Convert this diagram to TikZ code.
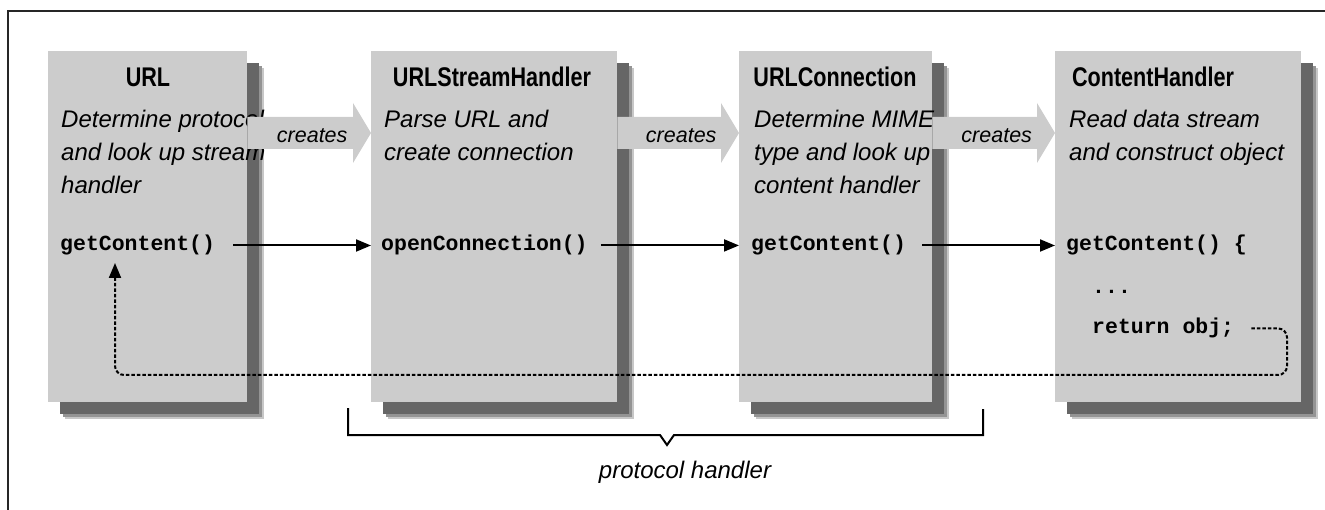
\documentclass[tikz,border=0pt]{standalone}
\usepackage{fontspec}
\setmainfont{Liberation Sans}
\newfontfamily\titlefont[FakeStretch=0.8]{Liberation Sans}
\newfontfamily\codefont{Liberation Mono}
\usetikzlibrary{arrows.meta,shadows,calc}
\definecolor{boxgray}{HTML}{CCCCCC}
\definecolor{shadegray}{HTML}{666666}

\begin{document}
\begin{tikzpicture}[x=1pt,y=-1pt,>={Triangle[length=15pt,width=12pt]},
  box/.style={fill=boxgray,minimum height=351pt,inner sep=0pt,anchor=north west,
    drop shadow={shadow xshift=17pt,shadow yshift=-17pt,fill=black!22,opacity=1},
    drop shadow={shadow xshift=15pt,shadow yshift=-15pt,fill=black!42,opacity=1},
    drop shadow={shadow xshift=12pt,shadow yshift=-12pt,fill=shadegray,opacity=1}},
  title/.style={anchor=base,inner sep=0pt,font=\titlefont\bfseries\fontsize{27}{30}\selectfont},
  desc/.style={anchor=north west,align=left,inner sep=0pt,font=\itshape\fontsize{24}{33}\selectfont},
  code/.style={anchor=base west,inner sep=0pt,font=\codefont\bfseries\fontsize{21.5}{26}\selectfont},
  creates/.style={anchor=base,inner sep=0pt,font=\itshape\fontsize{21.5}{24}\selectfont},
  call/.style={->,line width=2pt},
  back/.style={->,line width=2pt,dash pattern=on 3.5pt off 2pt,rounded corners=9pt}]
  \useasboundingbox (0,0) rectangle (1325,510);
  \draw[line width=2.6pt,black!85] (8,510) |- (1325,11);

  % the four classes
  \node[box,minimum width=199pt] (url) at (48,51) {};
  \node[box,minimum width=246pt] (ush) at (371,51) {};
  \node[box,minimum width=193pt] (con) at (739,51) {};
  \node[box,minimum width=246pt] (ch) at (1055,51) {};

  \node[title] (t1) at (148,87) {URL};
  \node[title] (t2) at (492,87) {URLStreamHandler};
  \node[title] (t3) at (835,87) {URLConnection};
  \node[title] (t4) at (1153,87) {ContentHandler};

  \node[desc] (d1) at (61,110) {Determine protocol\\and look up stream\\handler};
  \node[desc] (d2) at (384,110) {Parse URL and\\create connection};
  \node[desc] (d3) at (754,110) {Determine MIME\\type and look up\\content handler};
  \node[desc] (d4) at (1069,110) {Read data stream\\and construct object};

  \node[code] (gc1) at (60,251) {getContent()};
  \node[code] (oc2) at (381,251) {openConnection()};
  \node[code] (gc3) at (751,251) {getContent()};
  \node[code] (gc4) at (1066,251) {getContent() \{};
  \node[code] (dots) at (1092,294) {...};
  \node[code] (ret) at (1092,334) {return obj;};

  % creates arrows
  \foreach \a/\b/\n in {url/ush/cr1,ush/con/cr2,con/ch/cr3}{
    \fill[boxgray] ($(\a.north east)+(0,66)$) -- ($(\b.north west)+(-18,66)$)
      -- ($(\b.north west)+(-18,52)$) -- ($(\b.north west)+(0,82)$)
      -- ($(\b.north west)+(-18,112)$) -- ($(\b.north west)+(-18,98)$)
      -- ($(\a.north east)+(0,98)$) -- cycle;
    \node[creates] (\n) at ($(\a.north east)!0.5!(\b.north west)+(3,92)$) {creates};
  }

  % calls
  \draw[call] ([xshift=18pt]gc1.east) -- (gc1.east -| ush.west);
  \draw[call] ([xshift=13pt]oc2.east) -- (oc2.east -| con.west);
  \draw[call] ([xshift=16pt]gc3.east) -- (gc3.east -| ch.west);

  % returned object
  \coordinate (turn) at (1287,375);
  \coordinate (up) at (115,263);
  \draw[back] ([xshift=17pt]ret.east) -| (turn) -| (up);

  % protocol handler brace
  \coordinate (hl) at (348,408);
  \coordinate (hr) at (983,409);
  \draw[line width=2pt] (hl) |- (660,435) -- (667,445) -- (674,435) -| (hr);
  \node[anchor=base,inner sep=0pt,font=\itshape\fontsize{24}{30}\selectfont] (ph) at (685,478) {protocol handler};
\end{tikzpicture}
\end{document}
